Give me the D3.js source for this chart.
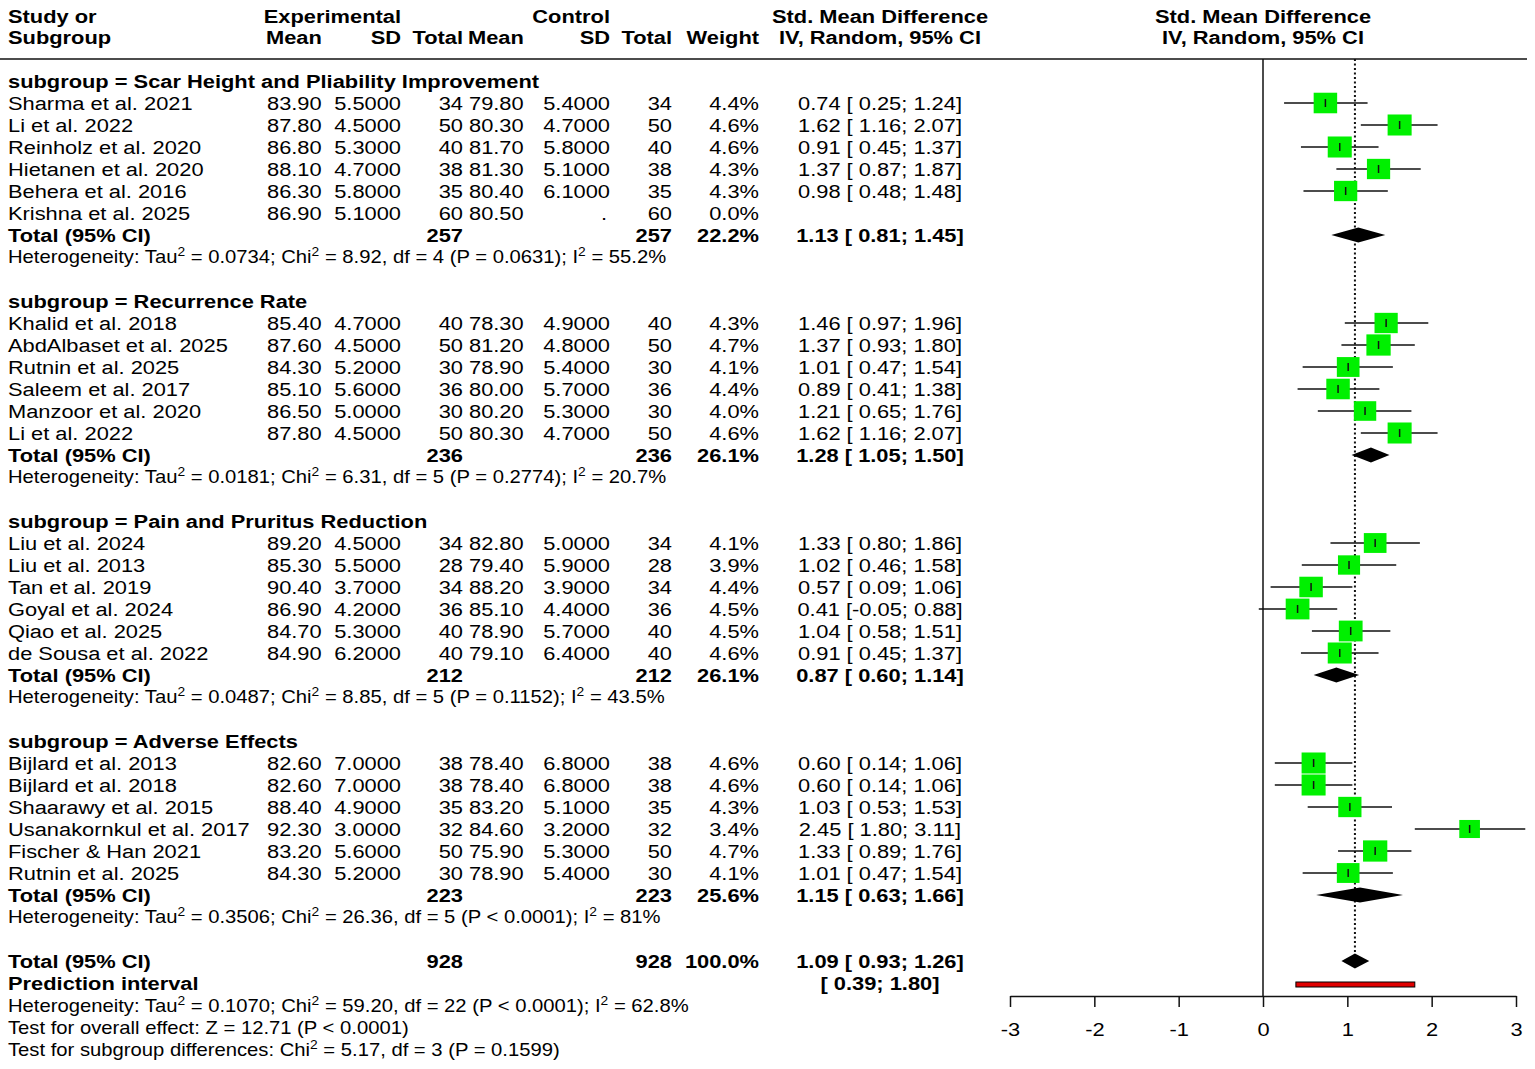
<!DOCTYPE html>
<html>
<head>
<meta charset="utf-8">
<script src="https://cdn.jsdelivr.net/npm/d3@7"></script>
<style>
  body { margin: 0; background: #fff; }
  svg { display: block; }
  text { font-family: "Liberation Sans", Arial, Helvetica, sans-serif; fill: #000; }
</style>
</head>
<body>
<svg id="forest"></svg>
<script>
// ---- data ----
var subgroupNames = ["Scar Height and Pliability Improvement", "Recurrence Rate",
    "Pain and Pruritus Reduction", "Adverse Effects"];

var studyGroup = [0,0,0,0,0,0, 1,1,1,1,1,1, 2,2,2,2,2,2, 3,3,3,3,3,3];
var studyLabels = ["Sharma et al. 2021", "Li et al. 2022", "Reinholz et al. 2020", "Hietanen et al. 2020",
    "Behera et al. 2016", "Krishna et al. 2025",
    "Khalid et al. 2018", "AbdAlbaset et al. 2025", "Rutnin et al. 2025", "Saleem et al. 2017",
    "Manzoor et al. 2020", "Li et al. 2022",
    "Liu et al. 2024", "Liu et al. 2013", "Tan et al. 2019", "Goyal et al. 2024",
    "Qiao et al. 2025", "de Sousa et al. 2022",
    "Bijlard et al. 2013", "Bijlard et al. 2018", "Shaarawy et al. 2015", "Usanakornkul et al. 2017",
    "Fischer & Han 2021", "Rutnin et al. 2025"];
var expMean = [83.9, 87.8, 86.8, 88.1, 86.3, 86.9, 85.4, 87.6, 84.3, 85.1, 86.5, 87.8,
    89.2, 85.3, 90.4, 86.9, 84.7, 84.9, 82.6, 82.6, 88.4, 92.3, 83.2, 84.3];
var expSD = [5.5, 4.5, 5.3, 4.7, 5.8, 5.1, 4.7, 4.5, 5.2, 5.6, 5.0, 4.5,
    4.5, 5.5, 3.7, 4.2, 5.3, 6.2, 7.0, 7.0, 4.9, 3.0, 5.6, 5.2];
var expN = [34, 50, 40, 38, 35, 60, 40, 50, 30, 36, 30, 50, 34, 28, 34, 36, 40, 40, 38, 38, 35, 32, 50, 30];
var ctlMean = [79.8, 80.3, 81.7, 81.3, 80.4, 80.5, 78.3, 81.2, 78.9, 80.0, 80.2, 80.3,
    82.8, 79.4, 88.2, 85.1, 78.9, 79.1, 78.4, 78.4, 83.2, 84.6, 75.9, 78.9];
var ctlSD = [5.4, 4.7, 5.8, 5.1, 6.1, null, 4.9, 4.8, 5.4, 5.7, 5.3, 4.7,
    5.0, 5.9, 3.9, 4.4, 5.7, 6.4, 6.8, 6.8, 5.1, 3.2, 5.3, 5.4];
var ctlN = [34, 50, 40, 38, 35, 60, 40, 50, 30, 36, 30, 50, 34, 28, 34, 36, 40, 40, 38, 38, 35, 32, 50, 30];
var weights = [4.4, 4.6, 4.6, 4.3, 4.3, 0.0, 4.3, 4.7, 4.1, 4.4, 4.0, 4.6,
    4.1, 3.9, 4.4, 4.5, 4.5, 4.6, 4.6, 4.6, 4.3, 3.4, 4.7, 4.1];
var smd = [0.74, 1.62, 0.91, 1.37, 0.98, null, 1.46, 1.37, 1.01, 0.89, 1.21, 1.62,
    1.33, 1.02, 0.57, 0.41, 1.04, 0.91, 0.60, 0.60, 1.03, 2.45, 1.33, 1.01];
var ciLow = [0.25, 1.16, 0.45, 0.87, 0.48, null, 0.97, 0.93, 0.47, 0.41, 0.65, 1.16,
    0.80, 0.46, 0.09, -0.05, 0.58, 0.45, 0.14, 0.14, 0.53, 1.80, 0.89, 0.47];
var ciHigh = [1.24, 2.07, 1.37, 1.87, 1.48, null, 1.96, 1.80, 1.54, 1.38, 1.76, 2.07,
    1.86, 1.58, 1.06, 0.88, 1.51, 1.37, 1.06, 1.06, 1.53, 3.11, 1.76, 1.54];

var subN = [257, 236, 212, 223];
var subWeight = [22.2, 26.1, 26.1, 25.6];
var subSmd = [1.13, 1.28, 0.87, 1.15];
var subLow = [0.81, 1.05, 0.60, 0.63];
var subHigh = [1.45, 1.50, 1.14, 1.66];
var subHet = [
    "Heterogeneity: Tau^2 = 0.0734; Chi^2 = 8.92, df = 4 (P = 0.0631); I^2 = 55.2%",
    "Heterogeneity: Tau^2 = 0.0181; Chi^2 = 6.31, df = 5 (P = 0.2774); I^2 = 20.7%",
    "Heterogeneity: Tau^2 = 0.0487; Chi^2 = 8.85, df = 5 (P = 0.1152); I^2 = 43.5%",
    "Heterogeneity: Tau^2 = 0.3506; Chi^2 = 26.36, df = 5 (P < 0.0001); I^2 = 81%"];

var overall = {n: 928, weight: 100.0, smd: 1.09, low: 0.93, high: 1.26};
var predInterval = [0.39, 1.80];
var footLines = [
    "Heterogeneity: Tau^2 = 0.1070; Chi^2 = 59.20, df = 22 (P < 0.0001); I^2 = 62.8%",
    "Test for overall effect: Z = 12.71 (P < 0.0001)",
    "Test for subgroup differences: Chi^2 = 5.17, df = 3 (P = 0.1599)"];

var xTicks = [-3, -2, -1, 0, 1, 2, 3];

// ---- layout ----
var svgWidth = 1535, svgHeight = 1069;
var FS = 19, FS_HET = 17.6, SX = 1.15;   // text looks horizontally stretched in the original
var BASE = 7;   // baseline offset from row centre

var svg = d3.select("#forest").attr("width", svgWidth).attr("height", svgHeight);

var xScale = d3.scaleLinear().domain([-3, 3]).range([1010, 1516]);
var rowY = d3.scaleLinear().domain([0, 1]).range([81, 103]);

// column anchors
var col = {
    study: 8, expMean: 267, expSD: 401, expN: 463,
    ctlMean: 469, ctlSD: 610, ctlN: 672, weight: 759, ci: 880
};

function txt(x, y, s, anchor, bold, size) {
    return svg.append("text")
        .attr("transform", "translate(" + x + "," + y + ") scale(" + SX + ",1)")
        .attr("text-anchor", anchor || "start")
        .attr("font-size", (size || FS) + "px")
        .attr("font-weight", bold ? "bold" : "normal")
        .text(s);
}

// text with superscript 2 written as ^2
function supTxt(x, y, s) {
    var t = svg.append("text")
        .attr("transform", "translate(" + x + "," + y + ") scale(" + SX + ",1)")
        .attr("font-size", FS_HET + "px");
    var parts = s.split("^2");
    parts.forEach(function(p, i) {
        t.append("tspan").attr("dy", i == 0 ? 0 : 7).text(p);
        if (i < parts.length - 1) {
            t.append("tspan").attr("font-size", "12px").attr("dy", -7).text("2");
        }
    });
    return t;
}

function ciText(m, l, h) {
    var f = function(v) { return (v < 0 ? "" : " ") + v.toFixed(2); };
    return m.toFixed(2) + " [" + f(l) + ";" + f(h) + "]";
}

// ---- header ----
txt(col.study, 23, "Study or", "start", true);
txt(col.study, 44, "Subgroup", "start", true);
txt(col.expSD, 23, "Experimental", "end", true);
txt(col.ctlSD, 23, "Control", "end", true);
txt(col.ci, 23, "Std. Mean Difference", "middle", true);
txt(266, 44, "Mean", "start", true);
txt(col.expSD, 44, "SD", "end", true);
txt(col.expN, 44, "Total", "end", true);
txt(col.ctlMean - 1, 44, "Mean", "start", true);
txt(col.ctlSD, 44, "SD", "end", true);
txt(col.ctlN, 44, "Total", "end", true);
txt(col.weight, 44, "Weight", "end", true);
txt(col.ci, 44, "IV, Random, 95% CI", "middle", true);
txt(xScale(0), 23, "Std. Mean Difference", "middle", true);
txt(xScale(0), 44, "IV, Random, 95% CI", "middle", true);

svg.append("line")
    .attr("x1", 0).attr("x2", 1527)
    .attr("y1", 59).attr("y2", 59)
    .style("stroke", "#111").style("stroke-width", "1.5px");

// reference lines
svg.append("line")
    .attr("x1", xScale(0)).attr("x2", xScale(0))
    .attr("y1", 59).attr("y2", 996)
    .style("stroke", "#111").style("stroke-width", "1.5px");
svg.append("line")
    .attr("x1", xScale(overall.smd)).attr("x2", xScale(overall.smd))
    .attr("y1", 59).attr("y2", rowY(40) - 7)
    .style("stroke", "#111").style("stroke-width", "2px")
    .style("stroke-dasharray", "2,2.5");

function diamond(y, m, l, h) {
    var hh = 7.5;
    svg.append("path")
        .attr("d", d3.line()([[xScale(l), y], [xScale(m), y - hh], [xScale(h), y], [xScale(m), y + hh]]) + "Z")
        .style("fill", "#000");
}

// ---- rows ----
var row = 0;
subgroupNames.forEach(function(name, g) {
    txt(col.study, rowY(row) + BASE, "subgroup = " + name, "start", true);
    row++;
    studyLabels.forEach(function(lab, i) {
        if (studyGroup[i] != g) return;
        var y = rowY(row);
        var by = y + BASE;
        txt(col.study, by, lab);
        txt(col.expMean, by, expMean[i].toFixed(2));
        txt(col.expSD, by, expSD[i].toFixed(4), "end");
        txt(col.expN, by, expN[i], "end");
        txt(col.ctlMean, by, ctlMean[i].toFixed(2));
        if (ctlSD[i] == null) txt(col.ctlSD - 3, by, ".", "end");
        else txt(col.ctlSD, by, ctlSD[i].toFixed(4), "end");
        txt(col.ctlN, by, ctlN[i], "end");
        txt(col.weight, by, weights[i].toFixed(1) + "%", "end");
        if (smd[i] != null) {
            txt(col.ci, by, ciText(smd[i], ciLow[i], ciHigh[i]), "middle").attr("xml:space", "preserve");
            svg.append("line")
                .attr("x1", xScale(ciLow[i])).attr("x2", xScale(ciHigh[i]))
                .attr("y1", y).attr("y2", y)
                .style("stroke", "#111").style("stroke-width", "1.5px");
            var w = 11.2 * Math.sqrt(weights[i]), h = 9.8 * Math.sqrt(weights[i]);
            svg.append("rect")
                .attr("x", xScale(smd[i]) - w / 2).attr("y", y - h / 2)
                .attr("width", w).attr("height", h)
                .style("fill", "#00f000");
            svg.append("line")
                .attr("x1", xScale(smd[i])).attr("x2", xScale(smd[i]))
                .attr("y1", y - 4).attr("y2", y + 4)
                .style("stroke", "#111").style("stroke-width", "1.5px");
        }
        row++;
    });
    var ty = rowY(row);
    txt(col.study, ty + BASE, "Total (95% CI)", "start", true);
    txt(col.expN, ty + BASE, subN[g], "end", true);
    txt(col.ctlN, ty + BASE, subN[g], "end", true);
    txt(col.weight, ty + BASE, subWeight[g].toFixed(1) + "%", "end", true);
    txt(col.ci, ty + BASE, ciText(subSmd[g], subLow[g], subHigh[g]), "middle", true).attr("xml:space", "preserve");
    diamond(ty, subSmd[g], subLow[g], subHigh[g]);
    row++;
    supTxt(col.study, rowY(row) + BASE - 1, subHet[g]);
    row += 2;
});

// overall
var oy = rowY(row);
txt(col.study, oy + BASE, "Total (95% CI)", "start", true);
txt(col.expN, oy + BASE, overall.n, "end", true);
txt(col.ctlN, oy + BASE, overall.n, "end", true);
txt(col.weight, oy + BASE, overall.weight.toFixed(1) + "%", "end", true);
txt(col.ci, oy + BASE, ciText(overall.smd, overall.low, overall.high), "middle", true).attr("xml:space", "preserve");
diamond(oy, overall.smd, overall.low, overall.high);
row++;

var py = rowY(row);
txt(col.study, py + BASE, "Prediction interval", "start", true);
txt(col.ci, py + BASE, "[ " + predInterval[0].toFixed(2) + "; " + predInterval[1].toFixed(2) + "]", "middle", true)
    .attr("xml:space", "preserve");
svg.append("rect")
    .attr("x", xScale(predInterval[0])).attr("y", py - 1)
    .attr("width", xScale(predInterval[1]) - xScale(predInterval[0])).attr("height", 5)
    .style("fill", "#e00000").style("stroke", "#000").style("stroke-width", "1px");
row++;

footLines.forEach(function(s) {
    supTxt(col.study, rowY(row) + BASE, s);
    row++;
});

// ---- axis ----
var axis = svg.append("g")
    .attr("class", "xAxis")
    .attr("transform", "translate(0,996)")
    .call(d3.axisBottom(xScale)
        .tickValues(xTicks)
        .tickSize(11)
        .tickSizeOuter(0)
        .tickPadding(16)
        .tickFormat(function(d) { return String(d); }));
axis.select(".domain").style("stroke", "#111").style("stroke-width", "1.5px");
axis.selectAll(".tick line").style("stroke", "#111").style("stroke-width", "1.5px");
axis.selectAll(".tick text")
    .attr("font-size", FS + "px")
    .attr("font-family", "Liberation Sans, Arial, sans-serif")
    .attr("transform", "scale(" + SX + ",1)")
    .style("fill", "#000");
</script>
</body>
</html>
